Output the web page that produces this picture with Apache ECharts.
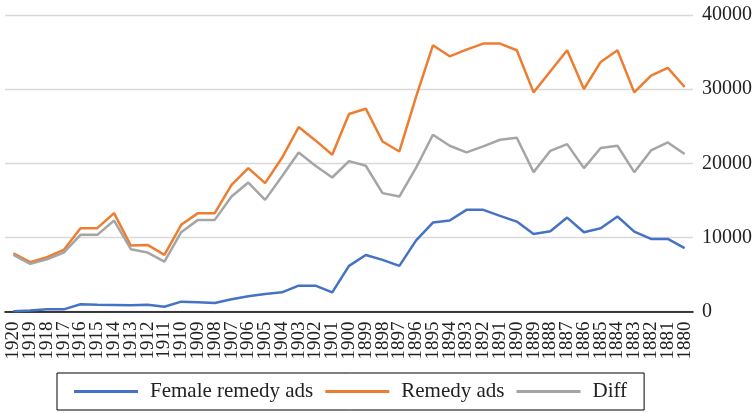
<!DOCTYPE html>
<html>
<head>
<meta charset="utf-8">
<script src="https://cdn.jsdelivr.net/npm/echarts@6/dist/echarts.min.js"></script>
<style>
html,body{margin:0;padding:0;background:#fff;}
#chart{width:755px;height:413px;}
</style>
</head>
<body>
<div id="chart"></div>
<script>
var years = ['1920','1919','1918','1917','1916','1915','1914','1913','1912','1911','1910','1909','1908','1907','1906','1905','1904','1903','1902','1901','1900','1899','1898','1897','1896','1895','1894','1893','1892','1891','1890','1889','1888','1887','1886','1885','1884','1883','1882','1881','1880'];
var femaleAds = [50,150,290,290,970,920,880,830,920,650,1330,1240,1150,1650,2050,2360,2590,3490,3490,2590,6150,7630,6960,6150,9600,12000,12270,13710,13710,12900,12130,10470,10830,12670,10700,11240,12810,10780,9790,9790,8540];
var remedyAds = [7860,6650,7320,8310,11240,11240,13270,8890,8980,7630,11690,13270,13270,17090,19350,17320,20700,24880,23080,21140,26640,27360,22940,21590,29000,35910,34430,35330,36140,36140,35240,29560,32400,35240,30020,33670,35240,29560,31820,32860,30290];
var diffAds = [7630,6420,7050,7950,10340,10340,12270,8400,7950,6730,10700,12360,12360,15510,17400,15060,18210,21450,19660,18080,20290,19660,15970,15510,19400,23850,22360,21460,22270,23170,23440,18800,21680,22580,19340,22050,22360,18800,21730,22810,21240];
var seriesNames = ['Female remedy ads','Remedy ads','Diff'];
var yTicks = {min:0, max:40000, interval:10000};

var font = 'Liberation Serif, Times New Roman, serif';
var chart = echarts.init(document.getElementById('chart'), null, {renderer:'canvas'});
function mk(name, data, color){
  return {name:name, type:'line', data:data, showSymbol:false, symbol:'none',
    lineStyle:{color:color, width:2.5}, itemStyle:{color:color}, animation:false};
}
chart.setOption({
  animation:false,
  grid:{left:5, right:62, top:15, bottom:101.5, containLabel:false},
  legend:{
    data:seriesNames, left:57, top:373, padding:[8,17,8,17],
    borderColor:'#000', borderWidth:1, itemGap:12, itemWidth:64, itemHeight:3,
    icon:'rect',
    textStyle:{fontFamily:font, fontSize:21, color:'#222', padding:[0,0,0,7]}
  },
  xAxis:{
    type:'category', data:years, boundaryGap:true,
    axisLine:{lineStyle:{color:'#000', width:1.5}},
    axisTick:{show:false},
    axisLabel:{interval:0, rotate:90, margin:10, fontFamily:font, fontSize:19, color:'#222'}
  },
  yAxis:{
    type:'value', position:'right', min:yTicks.min, max:yTicks.max, interval:yTicks.interval,
    axisLine:{show:false}, axisTick:{show:false},
    splitLine:{lineStyle:{color:'#D9D9D9', width:1.3}},
    axisLabel:{margin:9, fontFamily:font, fontSize:20, color:'#222',
      formatter:function(v){ return String(v); }}
  },
  series:[
    mk(seriesNames[0], femaleAds, '#4472C4'),
    mk(seriesNames[1], remedyAds, '#ED7D31'),
    mk(seriesNames[2], diffAds, '#A5A5A5')
  ]
});
</script>
</body>
</html>
